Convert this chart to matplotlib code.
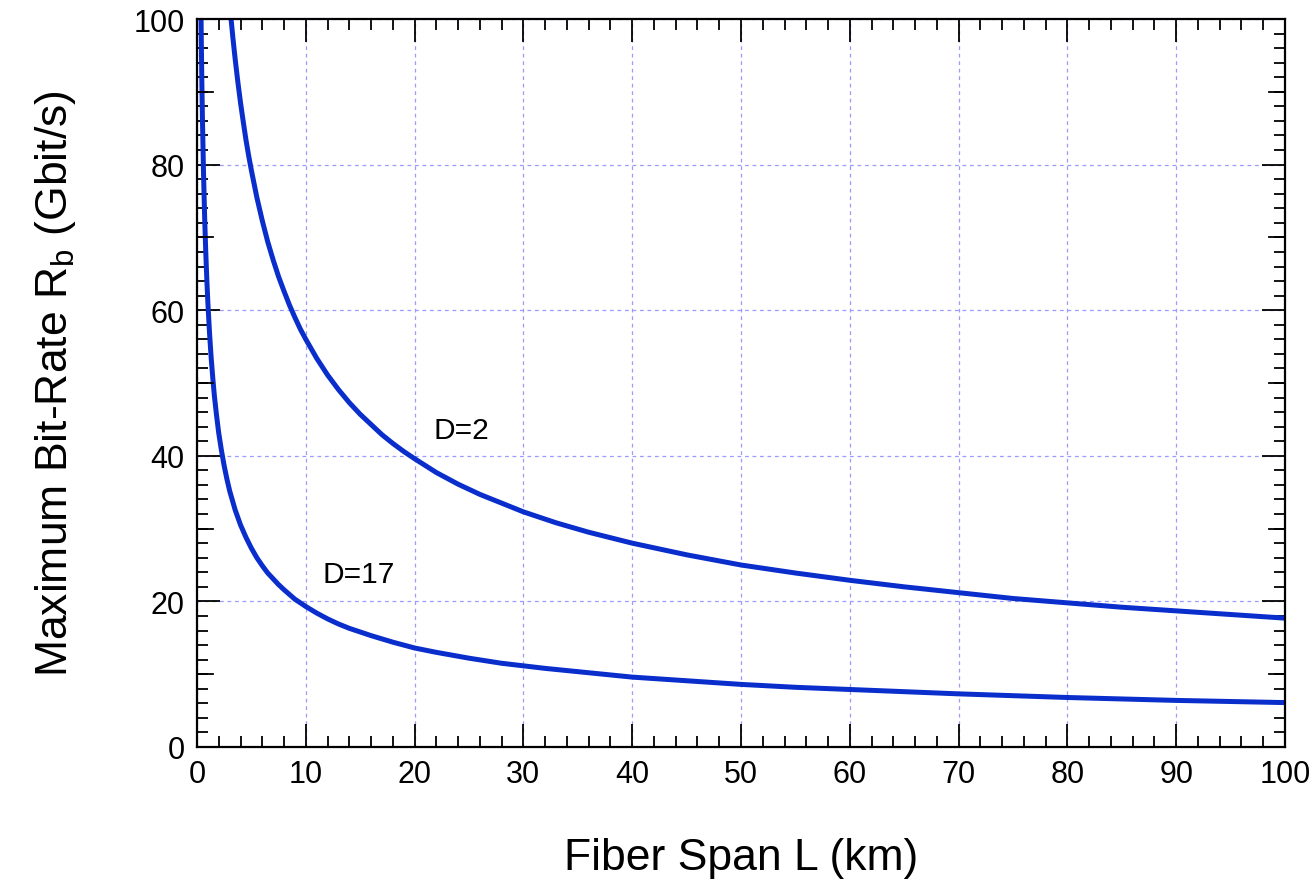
import matplotlib
matplotlib.use("Agg")
import matplotlib.pyplot as plt
from matplotlib.ticker import MultipleLocator

plt.rcParams['font.family'] = ['Liberation Sans', 'DejaVu Sans']

# values
span_d2 = [3.1, 3.3, 3.5, 3.75, 4, 4.25, 4.5, 4.75, 5, 5.5, 6, 6.5, 7, 7.5, 8, 8.5, 9, 9.5,
           10, 11, 12, 13, 14, 15, 16, 17, 18, 19, 20, 22, 24, 26, 28, 30, 33, 36, 40,
           45, 50, 55, 60, 65, 70, 75, 80, 85, 90, 95, 100]
rate_d2 = [100.5, 97.4, 94.6, 91.4, 88.5, 85.9, 83.4, 81.2, 79.2, 75.5, 72.3, 69.4, 66.9,
           64.6, 62.6, 60.7, 59.0, 57.4, 56.0, 53.4, 51.1, 49.1, 47.3, 45.7, 44.3, 42.9,
           41.7, 40.6, 39.6, 37.7, 36.1, 34.7, 33.5, 32.3, 30.8, 29.5, 28.0, 26.4, 25.0,
           23.9, 22.9, 22.0, 21.2, 20.4, 19.8, 19.2, 18.7, 18.2, 17.7]

span_d17 = [0.35, 0.4, 0.45, 0.5, 0.6, 0.7, 0.8, 0.9, 1.0, 1.15, 1.3, 1.45, 1.6, 1.8, 2.0,
            2.25, 2.5, 2.75, 3, 3.5, 4, 4.5, 5, 5.5, 6, 6.5, 7, 7.5, 8, 9, 10, 11, 12, 13,
            14, 16, 18, 20, 22, 25, 28, 32, 36, 40, 45, 50, 55, 60, 70, 80, 90, 100]
rate_d17 = [103.1, 96.4, 90.9, 86.3, 78.8, 72.9, 68.2, 64.3, 61.0, 56.9, 53.5, 50.7, 48.2,
            45.5, 43.1, 40.7, 38.6, 36.8, 35.2, 32.6, 30.5, 28.8, 27.3, 26.0, 24.9, 23.9,
            23.1, 22.3, 21.6, 20.3, 19.3, 18.4, 17.6, 16.9, 16.3, 15.3, 14.4, 13.6, 13.0,
            12.2, 11.5, 10.8, 10.2, 9.6, 9.1, 8.6, 8.2, 7.9, 7.3, 6.8, 6.4, 6.1]

curve_labels = ["D=2", "D=17"]
label_pos = [(21.7, 41.6), (11.5, 21.9)]

fig = plt.figure(figsize=(13.16, 8.87), dpi=100)
ax = fig.add_axes([197 / 1316, 1 - 748 / 887, (1285 - 197) / 1316, (748 - 20) / 887])

line_color = "#0a2ecc"
ax.plot(span_d2, rate_d2, color=line_color, lw=3.6, solid_joinstyle="round")
ax.plot(span_d17, rate_d17, color=line_color, lw=3.6, solid_joinstyle="round")

for txt, (x, y) in zip(curve_labels, label_pos):
    ax.text(x, y, txt, fontsize=21.5, ha="left", va="bottom")

ax.set_xlim(0, 100)
ax.set_ylim(0, 100)
ax.xaxis.set_major_locator(MultipleLocator(10))
ax.xaxis.set_minor_locator(MultipleLocator(2))
ax.yaxis.set_major_locator(MultipleLocator(20))
ax.yaxis.set_minor_locator(MultipleLocator(2))

ax.tick_params(which="both", direction="in", top=True, right=True, width=1.3, color="black")
ax.tick_params(which="major", length=16.5, labelsize=22, pad=9)
ax.tick_params(which="minor", length=8)

# medium ticks at odd multiples of 10 on the y axis
for yv in [10, 30, 50, 70, 90]:
    ax.plot([0, 1.5], [yv, yv], color="black", lw=1.3, clip_on=False)
    ax.plot([98.5, 100], [yv, yv], color="black", lw=1.3, clip_on=False)

ax.grid(which="major", color="#9a9aff", linestyle=(0, (3, 3)), lw=0.9)

for sp in ax.spines.values():
    sp.set_linewidth(1.6)

ax.set_xlabel("Fiber Span L (km)", fontsize=32, labelpad=34)
ax.set_ylabel("Maximum Bit-Rate R$_\\mathregular{b}$ (Gbit/s)", fontsize=32, labelpad=40)

fig.savefig("out.png", dpi=100)
